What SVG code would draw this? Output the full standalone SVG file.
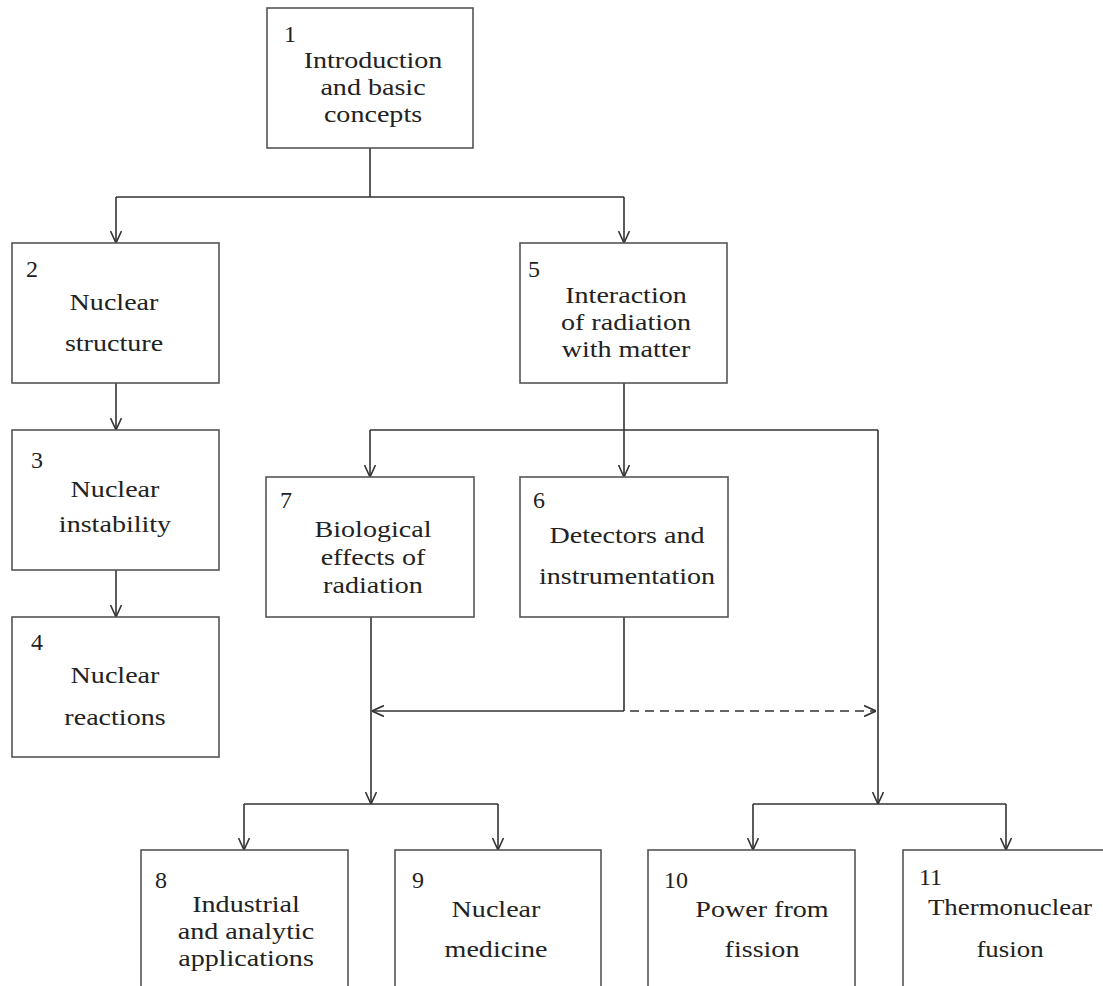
<svg xmlns="http://www.w3.org/2000/svg" width="1103" height="986" viewBox="0 0 1103 986">
<style>
.box{fill:#fff;stroke:#555;stroke-width:1.6}
.ln{fill:none;stroke:#333;stroke-width:1.6}
.dash{stroke-dasharray:9 6}
.t{font-family:"Liberation Serif","Times New Roman",serif;font-size:24px;fill:#222;text-anchor:middle}
.n{font-family:"Liberation Serif","Times New Roman",serif;font-size:24px;fill:#222}
</style>
<defs>
<marker id="ah" viewBox="0 0 12 12" refX="12" refY="6" markerWidth="12" markerHeight="12" markerUnits="userSpaceOnUse" orient="auto">
<path d="M0,0.5 L12,6 L0,11.5" fill="none" stroke="#333" stroke-width="1.6"/>
</marker>
</defs>
<rect width="1103" height="986" fill="#fff"/>

<g id="connectors">
<path class="ln" d="M370,148 V197 M116,197 H624"/>
<path class="ln" d="M116,197 V243" marker-end="url(#ah)"/>
<path class="ln" d="M624,197 V243" marker-end="url(#ah)"/>
<path class="ln" d="M116,383 V430" marker-end="url(#ah)"/>
<path class="ln" d="M116,570 V617" marker-end="url(#ah)"/>
<path class="ln" d="M624,383 V477" marker-end="url(#ah)"/>
<path class="ln" d="M370,430 H878"/>
<path class="ln" d="M370,430 V477" marker-end="url(#ah)"/>
<path class="ln" d="M878,430 V804" marker-end="url(#ah)"/>
<path class="ln" d="M371,617 V804" marker-end="url(#ah)"/>
<path class="ln" d="M624,617 V711"/>
<path class="ln" d="M624,711 H372" marker-end="url(#ah)"/>
<path class="ln dash" d="M630,711 H876" marker-end="url(#ah)"/>
<path class="ln" d="M244,804 H498 M753,804 H1006"/>
<path class="ln" d="M244,804 V850" marker-end="url(#ah)"/>
<path class="ln" d="M498,804 V850" marker-end="url(#ah)"/>
<path class="ln" d="M753,804 V850" marker-end="url(#ah)"/>
<path class="ln" d="M1006,804 V850" marker-end="url(#ah)"/>
</g>

<g id="node1">
<rect class="box" x="267" y="8" width="206" height="140"/>
<text class="n" x="284" y="42">1</text>
<g transform="translate(373,0) scale(1.17,1)">
<text class="t" x="0" y="68">Introduction</text>
<text class="t" x="0" y="95">and basic</text>
<text class="t" x="0" y="122">concepts</text>
</g>
</g>

<g id="node2">
<rect class="box" x="12" y="243" width="207" height="140"/>
<text class="n" x="26" y="277">2</text>
<g transform="translate(114,0) scale(1.17,1)">
<text class="t" x="0" y="310">Nuclear</text>
<text class="t" x="0" y="351">structure</text>
</g>
</g>

<g id="node3">
<rect class="box" x="12" y="430" width="207" height="140"/>
<text class="n" x="31" y="468">3</text>
<g transform="translate(115,0) scale(1.17,1)">
<text class="t" x="0" y="497">Nuclear</text>
<text class="t" x="0" y="532">instability</text>
</g>
</g>

<g id="node4">
<rect class="box" x="12" y="617" width="207" height="140"/>
<text class="n" x="31" y="650">4</text>
<g transform="translate(115,0) scale(1.17,1)">
<text class="t" x="0" y="683">Nuclear</text>
<text class="t" x="0" y="725">reactions</text>
</g>
</g>

<g id="node5">
<rect class="box" x="520" y="243" width="207" height="140"/>
<text class="n" x="528" y="277">5</text>
<g transform="translate(626,0) scale(1.17,1)">
<text class="t" x="0" y="303">Interaction</text>
<text class="t" x="0" y="330">of radiation</text>
<text class="t" x="0" y="357">with matter</text>
</g>
</g>

<g id="node7">
<rect class="box" x="266" y="477" width="208" height="140"/>
<text class="n" x="280" y="508">7</text>
<g transform="translate(373,0) scale(1.17,1)">
<text class="t" x="0" y="537">Biological</text>
<text class="t" x="0" y="565">effects of</text>
<text class="t" x="0" y="593">radiation</text>
</g>
</g>

<g id="node6">
<rect class="box" x="520" y="477" width="208" height="140"/>
<text class="n" x="533" y="508">6</text>
<g transform="translate(627,0) scale(1.17,1)">
<text class="t" x="0" y="543">Detectors and</text>
<text class="t" x="0" y="584">instrumentation</text>
</g>
</g>

<g id="node8">
<rect class="box" x="141" y="850" width="207" height="160"/>
<text class="n" x="155" y="888">8</text>
<g transform="translate(246,0) scale(1.17,1)">
<text class="t" x="0" y="912">Industrial</text>
<text class="t" x="0" y="939">and analytic</text>
<text class="t" x="0" y="966">applications</text>
</g>
</g>

<g id="node9">
<rect class="box" x="395" y="850" width="206" height="160"/>
<text class="n" x="412" y="888">9</text>
<g transform="translate(496,0) scale(1.17,1)">
<text class="t" x="0" y="917">Nuclear</text>
<text class="t" x="0" y="957">medicine</text>
</g>
</g>

<g id="node10">
<rect class="box" x="648" y="850" width="207" height="160"/>
<text class="n" x="664" y="888">10</text>
<g transform="translate(762,0) scale(1.17,1)">
<text class="t" x="0" y="917">Power from</text>
<text class="t" x="0" y="957">fission</text>
</g>
</g>

<g id="node11">
<rect class="box" x="903" y="850" width="207" height="160"/>
<text class="n" x="919" y="885">11</text>
<g transform="translate(1010,0) scale(1.12,1)">
<text class="t" x="0" y="915">Thermonuclear</text>
<text class="t" x="0" y="957">fusion</text>
</g>
</g>
</svg>
